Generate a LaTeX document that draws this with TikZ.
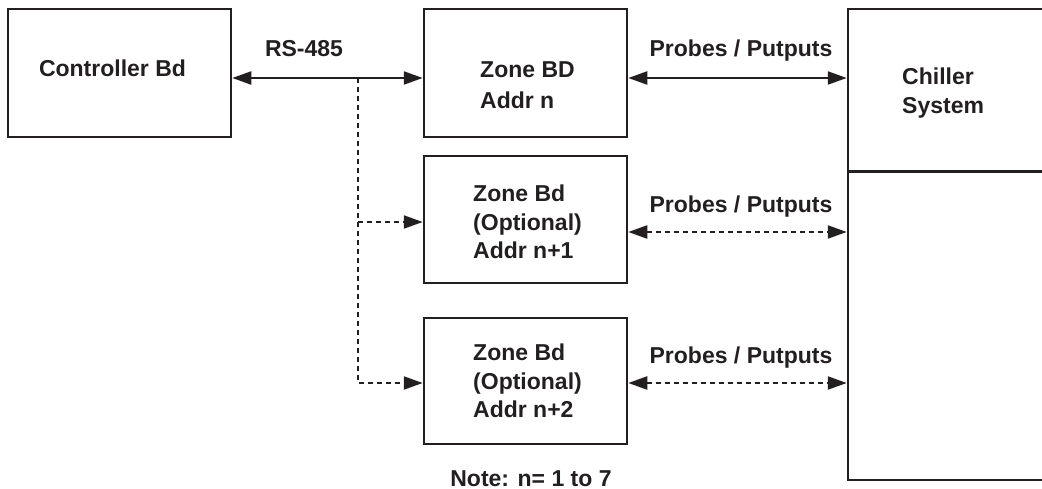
\documentclass[tikz,border=0pt]{standalone}
\usepackage{fontspec}
\setmainfont{Liberation Sans}
\usetikzlibrary{arrows.meta,calc}
\definecolor{ink}{RGB}{35,31,32}
\begin{document}
\begin{tikzpicture}[x=1pt,y=-1pt,
  box/.style={draw=ink, line width=2.5pt, inner sep=0pt},
  lbl/.style={font=\fontsize{23}{28}\selectfont\bfseries, text=ink, inner sep=0pt},
  blocktext/.style={lbl, anchor=north west, align=left},
  tip/.tip={Triangle[length=19pt,width=13pt]},
  wire/.style={draw=ink, line width=2.3pt},
  both/.style={wire, tip-tip},
  dashes/.style={wire, dash pattern=on 5pt off 4pt},
  dashboth/.style={dashes, tip-tip},
  dashto/.style={dashes, -tip}]
  \clip (0,0) rectangle (1042,489);

  % boards
  \node[box, minimum width=223pt, minimum height=128pt] (ctrl) at (119.5,73) {};
  \node[box, minimum width=203pt, minimum height=128pt] (z0) at (525.5,73) {};
  \node[box, minimum width=203pt, minimum height=127pt] (z1) at (525.5,219.5) {};
  \node[box, minimum width=203pt, minimum height=126pt] (z2) at (525.5,381) {};
  \node[box, minimum width=212pt, minimum height=471pt] (chil) at (954,244.5) {};
  \draw[box] ($(chil.north west)+(0,164)$) -- ($(chil.north east)+(0,164)$);

  % board texts
  \node[lbl, anchor=base] (ctrltxt) at (112.5,77) {Controller Bd};
  \node[blocktext, font=\fontsize{23}{31}\selectfont\bfseries] (z0txt) at (480,61) {Zone BD\\Addr n};
  \node[blocktext, font=\fontsize{23}{28.5}\selectfont\bfseries] (z1txt) at (473,185) {Zone Bd\\(Optional)\\Addr n+1};
  \node[blocktext, font=\fontsize{23}{28.5}\selectfont\bfseries] (z2txt) at (473,344) {Zone Bd\\(Optional)\\Addr n+2};
  \node[blocktext, font=\fontsize{23}{29}\selectfont\bfseries] (chiltxt) at (902,68) {Chiller\\System};

  % RS-485 bus
  \draw[both] ([yshift=-5pt]ctrl.east) -- ([yshift=-5pt]z0.west);
  \node[lbl, anchor=base] (rs) at (304,57) {RS-485};
  \coordinate (tap) at (358,78);
  \coordinate (t1) at ([yshift=-2.5pt]z1.west);
  \coordinate (t2) at ([yshift=-2pt]z2.west);
  \draw[dashto] (tap) |- (t2);
  \draw[dashto] (tap |- t1) -- (t1);

  % probe / output links
  \coordinate (p0) at ([yshift=-5pt]z0.east);
  \coordinate (p1) at ([yshift=-12.5pt]z1.east);
  \coordinate (p2) at ([yshift=-2pt]z2.east);
  \draw[both] (p0) -- (p0 -| chil.west);
  \draw[dashboth] (p1) -- (p1 -| chil.west);
  \draw[dashboth] (p2) -- (p2 -| chil.west);
  \node[lbl, anchor=base] (pp0) at (741,57) {Probes / Putputs};
  \node[lbl, anchor=base] (pp1) at (741,213) {Probes / Putputs};
  \node[lbl, anchor=base] (pp2) at (741,363) {Probes / Putputs};

  \node[lbl, anchor=base] (note) at (531,486) {Note: n= 1 to 7};
\end{tikzpicture}
\end{document}
